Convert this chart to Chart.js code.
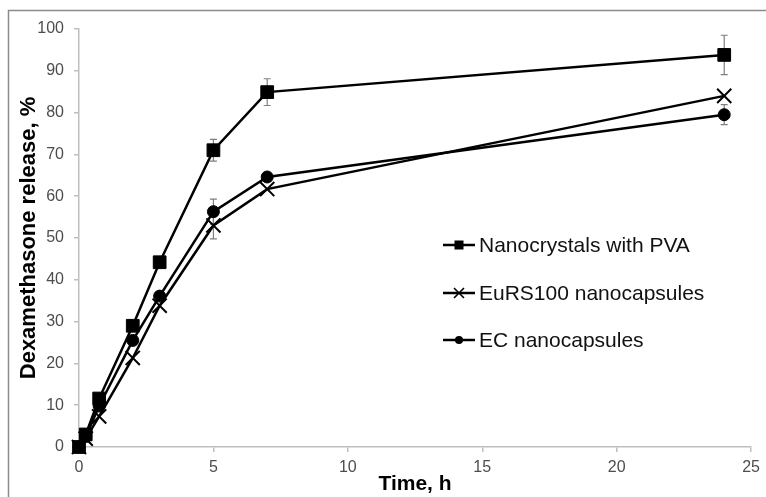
<!DOCTYPE html>
<html lang="en">
<head>
<meta charset="UTF-8">
<title>Dexamethasone release</title>
<script src="https://cdn.jsdelivr.net/npm/chart.js"></script>
<style>
  html, body {
    margin: 0;
    padding: 0;
    background: #fff;
  }
  #wrap {
    width: 766px;
    height: 497px;
  }
</style>
</head>
<body>

<div id="wrap">
  <canvas id="releaseChart" width="766" height="497"></canvas>
</div>

<script>
// time points (h)
const times = [0, 0.25, 0.75, 2, 3, 5, 7, 24];

// release values, %
const nanocrystals = [0, 3, 11.6, 29, 44.2, 71, 84.9, 93.8];
const eurs100 = [0, 2, 7.3, 21.3, 33.8, 53, 61.7, 84];
const ecCaps = [0, 2.5, 9.8, 25.5, 36.1, 56.3, 64.6, 79.5];

// error bars (+/-)
const nanocrystalsErr = [0, 0, 0, 0, 0, 2.6, 3.2, 4.7];
const eurs100Err = [0, 0, 0, 0, 0, 3.2, 0, 0];
const ecCapsErr = [0, 0, 0, 0, 0, 3, 0, 2.4];

const seriesNames = ['Nanocrystals with PVA', 'EuRS100 nanocapsules', 'EC nanocapsules'];
const xTicks = [0, 5, 10, 15, 20, 25];

const FONT = "'Liberation Sans', Arial, sans-serif";

function toPoints(vals) {
  return times.map((t, i) => ({ x: t, y: vals[i] }));
}

// grey frame around the picture (cut off at right/bottom as in the original)
const framePlugin = {
  id: 'frame',
  beforeDraw(chart) {
    const ctx = chart.ctx;
    ctx.save();
    ctx.strokeStyle = '#8c8c8c';
    ctx.lineWidth = 1.5;
    ctx.beginPath();
    ctx.moveTo(8.5, 520);
    ctx.lineTo(8.5, 10.5);
    ctx.lineTo(800, 10.5);
    ctx.stroke();
    ctx.restore();
  }
};

const errorBarPlugin = {
  id: 'errorBars',
  beforeDatasetsDraw(chart) {
    const ctx = chart.ctx;
    const xs = chart.scales.x, ys = chart.scales.y;
    ctx.save();
    ctx.strokeStyle = '#7f7f7f';
    ctx.lineWidth = 1.2;
    chart.data.datasets.forEach(ds => {
      ds.errors.forEach((e, i) => {
        if (!e) return;
        const px = xs.getPixelForValue(times[i]);
        const top = ys.getPixelForValue(ds.data[i].y + e);
        const bot = ys.getPixelForValue(ds.data[i].y - e);
        ctx.beginPath();
        ctx.moveTo(px, top); ctx.lineTo(px, bot);
        ctx.moveTo(px - 3.5, top); ctx.lineTo(px + 3.5, top);
        ctx.moveTo(px - 3.5, bot); ctx.lineTo(px + 3.5, bot);
        ctx.stroke();
      });
    });
    ctx.restore();
  }
};

// legend inside the plot area, drawn by hand
const legendPlugin = {
  id: 'insideLegend',
  afterDraw(chart) {
    const ctx = chart.ctx;
    const x0 = 443, x1 = 475, mx = 459, tx = 479;
    const rows = [245, 293, 340];
    ctx.save();
    chart.data.datasets.forEach((ds, i) => {
      const y = rows[i];
      ctx.strokeStyle = '#000';
      ctx.fillStyle = '#000';
      ctx.lineWidth = 2.5;
      ctx.beginPath();
      ctx.moveTo(x0, y); ctx.lineTo(x1, y);
      ctx.stroke();
      if (ds.pointStyle === 'rect') {
        ctx.fillRect(mx - 4.5, y - 4.5, 9, 9);
      } else if (ds.pointStyle === 'circle') {
        ctx.beginPath();
        ctx.arc(mx, y, 4, 0, Math.PI * 2);
        ctx.fill();
      } else {
        ctx.lineWidth = 1.6;
        ctx.beginPath();
        ctx.moveTo(mx - 5, y - 5); ctx.lineTo(mx + 5, y + 5);
        ctx.moveTo(mx - 5, y + 5); ctx.lineTo(mx + 5, y - 5);
        ctx.stroke();
      }
      ctx.font = '21px ' + FONT;
      ctx.textBaseline = 'middle';
      ctx.fillStyle = '#111';
      ctx.fillText(ds.label, tx, y + 1);
    });
    ctx.restore();
  }
};

const baseSet = {
  borderColor: '#000',
  backgroundColor: '#000',
  pointBorderColor: '#000',
  pointBackgroundColor: '#000',
  borderWidth: 2.5,
  showLine: true,
  tension: 0,
  clip: false
};

new Chart(document.getElementById('releaseChart'), {
  type: 'scatter',
  data: {
    datasets: [
      Object.assign({}, baseSet, {
        label: seriesNames[0],
        data: toPoints(nanocrystals),
        errors: nanocrystalsErr,
        pointStyle: 'rect',
        pointRadius: 9,
        pointBorderWidth: 1
      }),
      Object.assign({}, baseSet, {
        label: seriesNames[1],
        data: toPoints(eurs100),
        errors: eurs100Err,
        pointStyle: 'crossRot',
        pointRadius: 10,
        pointBorderWidth: 2
      }),
      Object.assign({}, baseSet, {
        label: seriesNames[2],
        data: toPoints(ecCaps),
        errors: ecCapsErr,
        pointStyle: 'circle',
        pointRadius: 6,
        pointBorderWidth: 1
      })
    ]
  },
  options: {
    responsive: false,
    animation: false,
    layout: { padding: { top: 29, right: 13, left: 0, bottom: 0 } },
    plugins: {
      legend: { display: false },
      tooltip: { enabled: false }
    },
    scales: {
      x: {
        type: 'linear',
        min: 0,
        max: 25,
        afterFit(scale) { scale.height = 50; },
        afterBuildTicks(scale) { scale.ticks = xTicks.map(v => ({ value: v })); },
        ticks: {
          stepSize: 5,
          color: '#4d4d4d',
          padding: 6,
          font: { family: FONT, size: 16 }
        },
        grid: {
          drawOnChartArea: false,
          drawTicks: true,
          tickLength: 5,
          color: '#bfbfbf',
          lineWidth: 1.5
        },
        border: { color: '#bfbfbf', width: 1.5 },
        title: {
          display: true,
          text: 'Time, h',
          color: '#000',
          padding: { top: 0, bottom: 0 },
          font: { family: FONT, size: 21, weight: 'bold' }
        }
      },
      y: {
        min: 0,
        max: 100,
        afterFit(scale) { scale.width = 79; },
        ticks: {
          stepSize: 10,
          color: '#4d4d4d',
          padding: 10,
          font: { family: FONT, size: 16 }
        },
        grid: {
          drawOnChartArea: false,
          drawTicks: true,
          tickLength: 5,
          color: '#bfbfbf',
          lineWidth: 1.5
        },
        border: { color: '#bfbfbf', width: 1.5 },
        title: {
          display: true,
          text: 'Dexamethasone release, %',
          color: '#000',
          padding: { top: 16, bottom: 0 },
          font: { family: FONT, size: 22, weight: 'bold' }
        }
      }
    }
  },
  plugins: [framePlugin, errorBarPlugin, legendPlugin]
});
</script>

</body>
</html>
